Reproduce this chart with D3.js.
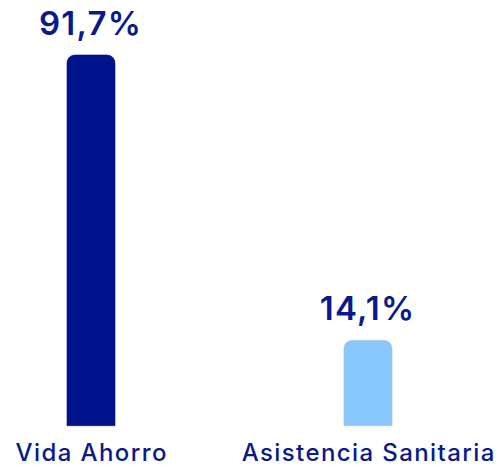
<!DOCTYPE html>
<html>
<head>
<meta charset="utf-8">
<script src="https://cdn.jsdelivr.net/npm/d3@7"></script>
<style>
  body { margin: 0; background: #fff; }
  text { font-family: Inter, "Noto Sans", sans-serif; }
</style>
</head>
<body>
<div id="chart"></div>
<script>
const categories = ["Vida Ahorro", "Asistencia Sanitaria"]
const values = [91.7, 14.1]
const valueLabels = ["91,7%", "14,1%"]
const barColors = ["#00138c", "#88c8ff"]
const barStrokes = ["#00138c", "#a9b8c8"]

const width = 504, height = 468
const baseY = 425.7, topY = 55
const barW = 48, radius = 8

const svg = d3.select("#chart").append("svg")
  .attr("width", width).attr("height", height)

const x = d3.scalePoint().domain(categories).range([91, 368])
const y = d3.scaleLinear().domain([-9.1, d3.max(values)]).range([baseY, topY])

function barPath(cx, top){
  const p = d3.path()
  const l = cx - barW / 2, r = cx + barW / 2
  p.moveTo(l, baseY)
  p.lineTo(l, top + radius)
  p.arcTo(l, top, l + radius, top, radius)
  p.lineTo(r - radius, top)
  p.arcTo(r, top, r, top + radius, radius)
  p.lineTo(r, baseY)
  p.closePath()
  return p.toString()
}

const data = categories.map((c, i) => ({cat: c, v: values[i], label: valueLabels[i], i}))

svg.selectAll(".bar").data(data).enter()
  .append("path").attr("class", "bar")
  .attr("d", d => barPath(x(d.cat), y(d.v)))
  .attr("fill", d => barColors[d.i])
  .attr("stroke", d => barStrokes[d.i])
  .attr("stroke-width", 0.6)

svg.selectAll(".val").data(data).enter()
  .append("text").attr("class", "val")
  .attr("x", d => x(d.cat) - 0.5)
  .attr("y", d => y(d.v) - 20)
  .attr("text-anchor", "middle")
  .attr("font-size", "33px").attr("font-weight", 600)
  .attr("letter-spacing", "1.2px")
  .attr("fill", "#0a1a8a")
  .text(d => d.label)

svg.selectAll(".cat").data(data).enter()
  .append("text").attr("class", "cat")
  .attr("x", d => x(d.cat) + 0.7)
  .attr("y", 461)
  .attr("text-anchor", "middle")
  .attr("font-size", "24px").attr("font-weight", 500)
  .attr("letter-spacing", "1.4px")
  .attr("fill", "#0a1a8a")
  .text(d => d.cat)
</script>
</body>
</html>
